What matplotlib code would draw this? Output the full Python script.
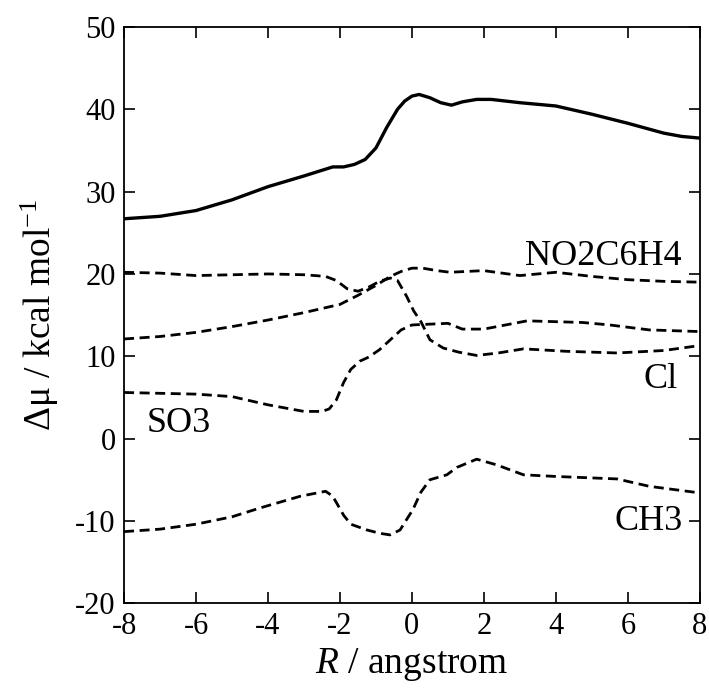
import matplotlib
matplotlib.use("Agg")
import matplotlib.pyplot as plt

plt.rcParams["font.family"] = ["Liberation Serif", "DejaVu Serif"]
plt.rcParams["mathtext.fontset"] = "custom"
plt.rcParams["mathtext.rm"] = "Liberation Serif"
plt.rcParams["mathtext.it"] = "Liberation Serif:italic"
plt.rcParams["axes.unicode_minus"] = False

# ---- datos ----
x_total = [-8, -7, -6, -5, -4, -3, -2.2, -1.9, -1.6, -1.3, -1.0, -0.7, -0.4, -0.2,
           0, 0.2, 0.5, 0.8, 1.1, 1.4, 1.8, 2.2, 3, 4, 5, 6, 7, 7.5, 8]
y_total = [26.7, 27.0, 27.7, 29.0, 30.6, 31.9, 33.0, 33.0, 33.3, 33.9, 35.3, 37.8,
           40.0, 41.0, 41.6, 41.8, 41.4, 40.8, 40.5, 40.9, 41.2, 41.2, 40.8, 40.4,
           39.4, 38.3, 37.1, 36.7, 36.5]

x_no2 = [-8, -7, -6, -5, -4, -3, -2, -1.5, -1.0, -0.6, -0.3, 0, 0.3, 0.7, 1.06,
         1.5, 2, 2.5, 3, 3.5, 4, 5, 6, 7, 8]
y_no2 = [12.1, 12.4, 12.9, 13.6, 14.4, 15.3, 16.3, 17.4, 18.6, 19.7, 20.3, 20.7,
         20.7, 20.4, 20.2, 20.3, 20.4, 20.1, 19.8, 20.0, 20.2, 19.7, 19.3, 19.1, 19.0]

x_cl = [-8, -7, -6, -5, -4, -3, -2.4, -2.1, -1.8, -1.5, -1.2, -0.9, -0.6, -0.4,
        -0.15, 0.05, 0.25, 0.5, 0.87, 1.3, 1.8, 2.4, 3.1, 4.3, 5.7, 7, 8]
y_cl = [20.2, 20.1, 19.8, 19.9, 20.0, 19.9, 19.7, 19.2, 18.2, 17.9, 18.4, 19.1,
        19.5, 19.2, 17.3, 15.5, 14.2, 12.0, 11.0, 10.5, 10.1, 10.4, 10.9, 10.6,
        10.4, 10.7, 11.3]

x_so3 = [-8, -7, -6, -5, -4.5, -4, -3.5, -3, -2.5, -2.3, -2.1, -1.9, -1.7, -1.45,
         -1.2, -0.9, -0.6, -0.3, 0, 0.5, 1.0, 1.4, 2, 2.6, 3.2, 4, 4.75, 5.5, 6.6, 8]
y_so3 = [5.6, 5.5, 5.4, 5.1, 4.6, 4.1, 3.7, 3.3, 3.3, 3.6, 4.7, 6.8, 8.4, 9.4,
         9.9, 10.8, 12.0, 13.2, 13.8, 13.9, 14.0, 13.3, 13.3, 13.8, 14.3, 14.2,
         14.1, 13.8, 13.2, 13.0]

x_ch3 = [-8, -7, -6, -5, -4.2, -3.1, -2.4, -2.2, -1.9, -1.7, -1.25, -0.9, -0.61,
         -0.33, 0.03, 0.25, 0.5, 0.97, 1.25, 1.8, 2.36, 3.1, 4.0, 5.7, 6.6, 8]
y_ch3 = [-11.3, -11.0, -10.4, -9.5, -8.4, -7.0, -6.4, -7.0, -9.3, -10.4, -11.1,
         -11.5, -11.7, -11.1, -8.6, -6.5, -5.0, -4.4, -3.5, -2.5, -3.2, -4.4,
         -4.6, -4.9, -5.8, -6.6]

# ---- grafico ----
fig = plt.figure(figsize=(7.09, 6.91), dpi=100)
ax = fig.add_axes([0.175, 0.127, 0.812, 0.834])

ax.plot(x_total, y_total, color="black", linewidth=2.4,
        solid_joinstyle="round", solid_capstyle="round")
for xs, ys in [(x_no2, y_no2), (x_cl, y_cl), (x_so3, y_so3), (x_ch3, y_ch3)]:
    ax.plot(xs, ys, color="black", linewidth=2.0, linestyle=(0, (3.6, 2.0)))

ax.text(7.5, 21.1, "NO2C6H4", fontsize=26, ha="right", va="baseline")
ax.text(7.39, 6.2, "Cl", fontsize=26, ha="right", va="baseline")
ax.text(7.53, -11.1, "CH3", fontsize=26, ha="right", va="baseline")
ax.text(-7.36, 0.85, "SO3", fontsize=26, ha="left", va="baseline")

ax.set_xlim(-8, 8)
ax.set_ylim(-20, 50)
ax.set_xticks(range(-8, 9, 2))
ax.set_yticks(range(-20, 51, 10))
ax.tick_params(direction="in", length=8, width=1.2, labelsize=22,
               top=True, right=True, pad=6)
for sp in ax.spines.values():
    sp.set_linewidth(1.3)

ax.set_xlabel(r"$\it{R}$ / angstrom", fontsize=27, labelpad=4)
ax.set_ylabel(r"Δμ / kcal mol$^{\mathregular{-1}}$", fontsize=27, labelpad=10)

fig.savefig("out.png", dpi=100)
